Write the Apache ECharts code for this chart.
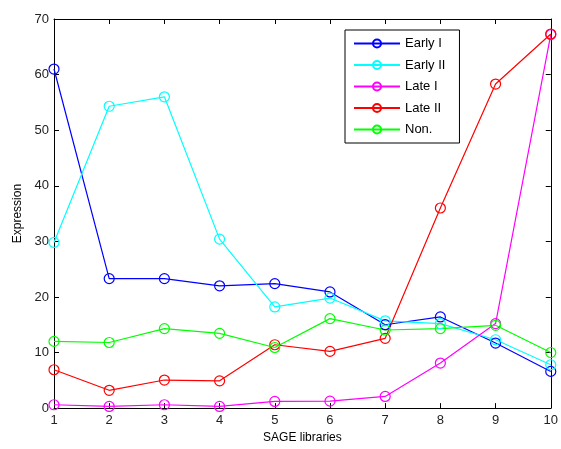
<!DOCTYPE html>
<html><head><meta charset="utf-8">
<script src="https://cdn.jsdelivr.net/npm/echarts@6/dist/echarts.min.js"></script>
<style>html,body{margin:0;padding:0;background:#fff}#c{width:561px;height:449px}</style>
</head><body><div id="c"></div>
<script>
const libraries = [1,2,3,4,5,6,7,8,9,10];
const earlyI  = [61.0, 23.3, 23.3, 22.0, 22.4, 20.9, 15.0, 16.4, 11.7, 6.6];
const earlyII = [29.8, 54.3, 56.0, 30.4, 18.2, 19.8, 15.7, 15.2, 12.3, 7.8];
const lateI   = [0.6, 0.3, 0.6, 0.3, 1.2, 1.25, 2.1, 8.1, 15.2, 67.2];
const lateII  = [6.9, 3.2, 5.05, 4.9, 11.4, 10.2, 12.55, 36.0, 58.3, 67.3];
const non     = [12.0, 11.8, 14.3, 13.45, 10.9, 16.1, 14.05, 14.3, 14.9, 10.0];
const seriesNames = ['Early I','Early II','Late I','Late II','Non.'];
const seriesColors = ['#0000ff','#00ffff','#ff00ff','#ff0000','#00ff00'];
const seriesData = [earlyI, earlyII, lateI, lateII, non];

const font = 'Liberation Sans, Arial, sans-serif';
const chart = echarts.init(document.getElementById('c'), null, {renderer:'canvas'});
const axisCommon = {
  axisLine:{show:true, onZero:false, lineStyle:{color:'#000', width:1}},
  axisTick:{show:true, inside:true, length:5, lineStyle:{color:'#000'}},
  splitLine:{show:false}
};
chart.setOption({
  animation:false,
  backgroundColor:'#fff',
  grid:{left:54, right:9, top:19, bottom:39, containLabel:false},
  legend:{
    orient:'vertical', left:345, top:30,
    data: seriesNames,
    itemWidth:46, itemHeight:10, itemGap:8.5,
    padding:[7,14,7,8],
    borderColor:'#000', borderWidth:1, borderRadius:0,
    textStyle:{fontFamily:font, fontSize:13, color:'#000'}
  },
  xAxis:[
    Object.assign({type:'value', min:1, max:10, interval:1, position:'bottom',
      name:'SAGE libraries', nameLocation:'middle', nameGap:22,
      nameTextStyle:{fontFamily:font, fontSize:12, color:'#000'},
      axisLabel:{fontFamily:font, fontSize:13, color:'#222', margin:6}}, axisCommon),
    Object.assign({type:'value', min:1, max:10, interval:1, position:'top',
      axisLabel:{show:false}}, axisCommon)
  ],
  yAxis:[
    Object.assign({type:'value', min:0, max:70, interval:10, position:'left',
      name:'Expression', nameLocation:'middle', nameGap:30, nameRotate:90,
      nameTextStyle:{fontFamily:font, fontSize:12, color:'#000'},
      axisLabel:{fontFamily:font, fontSize:13, color:'#222', margin:5}}, axisCommon),
    Object.assign({type:'value', min:0, max:70, interval:10, position:'right',
      axisLabel:{show:false}}, axisCommon)
  ],
  series: seriesNames.map((n,i)=>({
    name:n, type:'line', xAxisIndex:0, yAxisIndex:0,
    data: libraries.map((x,j)=>[x, seriesData[i][j]]),
    symbol:'circle', symbolSize:10, showAllSymbol:true,
    itemStyle:{color:'rgba(255,255,255,0)', borderColor:seriesColors[i], borderWidth:1.2},
    lineStyle:{color:seriesColors[i], width:1.2},
    emphasis:{disabled:true}
  }))
});
</script></body></html>
